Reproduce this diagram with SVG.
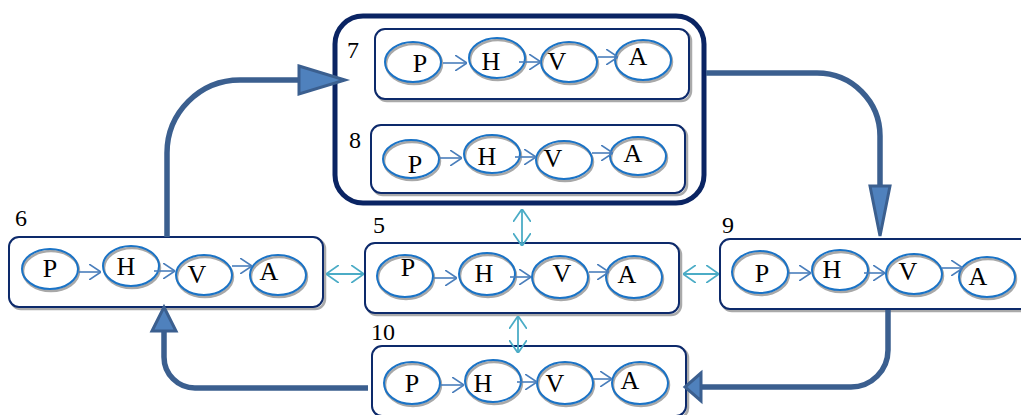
<svg xmlns="http://www.w3.org/2000/svg" width="1021" height="415" viewBox="0 0 1021 415">
<style>
.box{fill:#ffffff;stroke:#0d2a6b;stroke-width:2}
.bsh{fill:none;stroke:#aaaaaa;stroke-width:2.5}
.el{fill:none;stroke:#1a73c6;stroke-width:2}
.esh{fill:none;stroke:#a8a8a8;stroke-width:2.5}
.lt{font-family:"Liberation Serif","Times New Roman",serif;font-size:26px;fill:#000;text-anchor:middle}
.num{font-family:"Liberation Serif","Times New Roman",serif;font-size:24px;fill:#000}
.ia{fill:none;stroke:#4a7ebb;stroke-width:1.6;marker-end:url(#sa)}
.da{fill:none;stroke:#4bacc6;stroke-width:1.8;marker-end:url(#ca);marker-start:url(#ca)}
.big{fill:none;stroke:#3b5f8f;stroke-width:5.5}
.bh{fill:#4f81bd;stroke:#3b5f8f;stroke-width:3;stroke-linejoin:miter}
</style>
<defs>
<marker id="sa" viewBox="0 0 12 16" refX="12" refY="8" markerWidth="12" markerHeight="16" markerUnits="userSpaceOnUse" orient="auto"><path d="M0,0 L12,8 L0,16" fill="none" stroke="#4a7ebb" stroke-width="1.6"/></marker>
<marker id="ca" viewBox="0 0 13 18" refX="13" refY="9" markerWidth="13" markerHeight="18" markerUnits="userSpaceOnUse" orient="auto-start-reverse"><path d="M0,0 L13,9 L0,18" fill="none" stroke="#4bacc6" stroke-width="1.8"/></marker>
</defs>

<g id="group78">
<rect x="335" y="16" width="369" height="187" rx="28" fill="#ffffff" stroke="#0a2463" stroke-width="5"/>
</g>

<g id="node7">
<rect class="bsh" x="377" y="31" width="314" height="70" rx="10"/>
<rect class="box" x="375" y="29" width="314" height="70" rx="10"/>
<text class="num" x="347" y="58">7</text>
<ellipse class="esh" cx="414" cy="64" rx="28" ry="20"/><ellipse class="el" cx="413" cy="62" rx="28" ry="20"/>
<ellipse class="esh" cx="498" cy="60" rx="28" ry="20"/><ellipse class="el" cx="497" cy="58" rx="28" ry="20"/>
<ellipse class="esh" cx="570" cy="64" rx="28" ry="20"/><ellipse class="el" cx="569" cy="62" rx="28" ry="20"/>
<ellipse class="esh" cx="644" cy="62" rx="28" ry="20"/><ellipse class="el" cx="643" cy="60" rx="28" ry="20"/>
<text class="lt" x="420" y="72">P</text>
<text class="lt" x="491" y="70">H</text>
<text class="lt" x="557" y="70">V</text>
<text class="lt" x="638" y="65">A</text>
<path class="ia" d="M443,63 H467"/>
<path class="ia" d="M519,62 H541"/>
<path class="ia" d="M598,57 H618"/>
</g>

<g id="node8">
<rect class="bsh" x="373" y="127" width="314" height="68" rx="10"/>
<rect class="box" x="371" y="125" width="314" height="68" rx="10"/>
<text class="num" x="349" y="148">8</text>
<ellipse class="esh" cx="412" cy="161" rx="28" ry="19"/><ellipse class="el" cx="411" cy="159" rx="28" ry="19"/>
<ellipse class="esh" cx="493" cy="156" rx="28" ry="19"/><ellipse class="el" cx="492" cy="154" rx="28" ry="19"/>
<ellipse class="esh" cx="565" cy="162" rx="28" ry="19"/><ellipse class="el" cx="564" cy="160" rx="28" ry="19"/>
<ellipse class="esh" cx="639" cy="158" rx="28" ry="19"/><ellipse class="el" cx="638" cy="156" rx="28" ry="19"/>
<text class="lt" x="415" y="173">P</text>
<text class="lt" x="487" y="165">H</text>
<text class="lt" x="553" y="167">V</text>
<text class="lt" x="633" y="162">A</text>
<path class="ia" d="M439,158 H462"/>
<path class="ia" d="M515,157 H536"/>
<path class="ia" d="M592,153 H613"/>
</g>

<g id="node6">
<rect class="bsh" x="11" y="239" width="314" height="70" rx="10"/>
<rect class="box" x="9" y="237" width="314" height="70" rx="10"/>
<text class="num" x="15" y="226">6</text>
<ellipse class="esh" cx="51" cy="271" rx="28" ry="20"/><ellipse class="el" cx="50" cy="269" rx="28" ry="20"/>
<ellipse class="esh" cx="132" cy="268" rx="28" ry="20"/><ellipse class="el" cx="131" cy="266" rx="28" ry="20"/>
<ellipse class="esh" cx="205" cy="277" rx="28" ry="20"/><ellipse class="el" cx="204" cy="275" rx="28" ry="20"/>
<ellipse class="esh" cx="279" cy="277" rx="28" ry="20"/><ellipse class="el" cx="278" cy="275" rx="28" ry="20"/>
<text class="lt" x="50" y="277">P</text>
<text class="lt" x="126" y="275">H</text>
<text class="lt" x="197" y="283">V</text>
<text class="lt" x="269" y="280">A</text>
<path class="ia" d="M79,272 H101"/>
<path class="ia" d="M154,271 H175"/>
<path class="ia" d="M232,266 H252"/>
</g>

<g id="node5">
<rect class="bsh" x="367" y="245" width="314" height="70" rx="10"/>
<rect class="box" x="365" y="243" width="314" height="70" rx="10"/>
<text class="num" x="373" y="233">5</text>
<ellipse class="esh" cx="406" cy="278" rx="28" ry="21"/><ellipse class="el" cx="405" cy="276" rx="28" ry="21"/>
<ellipse class="esh" cx="488" cy="276" rx="28" ry="21"/><ellipse class="el" cx="487" cy="274" rx="28" ry="21"/>
<ellipse class="esh" cx="561" cy="279" rx="28" ry="21"/><ellipse class="el" cx="560" cy="277" rx="28" ry="21"/>
<ellipse class="esh" cx="635" cy="279" rx="28" ry="21"/><ellipse class="el" cx="634" cy="277" rx="28" ry="21"/>
<text class="lt" x="408" y="276">P</text>
<text class="lt" x="484" y="282">H</text>
<text class="lt" x="562" y="282">V</text>
<text class="lt" x="627" y="283">A</text>
<path class="ia" d="M434,278 H457"/>
<path class="ia" d="M510,277 H531"/>
<path class="ia" d="M589,272 H609"/>
</g>

<g id="node9">
<rect class="bsh" x="722" y="241" width="314" height="70" rx="10"/>
<rect class="box" x="720" y="239" width="314" height="70" rx="10"/>
<text class="num" x="722" y="233">9</text>
<ellipse class="esh" cx="761" cy="274" rx="28" ry="21"/><ellipse class="el" cx="760" cy="272" rx="28" ry="21"/>
<ellipse class="esh" cx="841" cy="272" rx="28" ry="20"/><ellipse class="el" cx="840" cy="270" rx="28" ry="20"/>
<ellipse class="esh" cx="915" cy="276" rx="28" ry="20"/><ellipse class="el" cx="914" cy="274" rx="28" ry="20"/>
<ellipse class="esh" cx="988" cy="279" rx="28" ry="20"/><ellipse class="el" cx="987" cy="277" rx="28" ry="20"/>
<text class="lt" x="762" y="282">P</text>
<text class="lt" x="832" y="278">H</text>
<text class="lt" x="908" y="280">V</text>
<text class="lt" x="978" y="285">A</text>
<path class="ia" d="M789,273 H811"/>
<path class="ia" d="M864,273 H885"/>
<path class="ia" d="M942,268 H963"/>
</g>

<g id="node10">
<rect class="bsh" x="374" y="348" width="314" height="70" rx="10"/>
<rect class="box" x="372" y="346" width="314" height="70" rx="10"/>
<text class="num" x="371" y="340">10</text>
<ellipse class="esh" cx="413" cy="385" rx="28" ry="21"/><ellipse class="el" cx="412" cy="383" rx="28" ry="21"/>
<ellipse class="esh" cx="494" cy="383" rx="28" ry="21"/><ellipse class="el" cx="493" cy="381" rx="28" ry="21"/>
<ellipse class="esh" cx="566" cy="385" rx="28" ry="21"/><ellipse class="el" cx="565" cy="383" rx="28" ry="21"/>
<ellipse class="esh" cx="641" cy="385" rx="28" ry="21"/><ellipse class="el" cx="640" cy="383" rx="28" ry="21"/>
<text class="lt" x="412" y="392">P</text>
<text class="lt" x="483" y="392">H</text>
<text class="lt" x="555" y="392">V</text>
<text class="lt" x="630" y="389">A</text>
<path class="ia" d="M441,385 H464"/>
<path class="ia" d="M517,382 H537"/>
<path class="ia" d="M593,379 H612"/>
</g>

<g id="connectors">
<path class="big" d="M167,237 V153 A73,73 0 0 1 240,80 H300"/>
<polygon class="bh" points="299,66 345,80 299,94"/>
<path class="big" d="M706,73 H817 A63,63 0 0 1 880,136 V188"/>
<polygon class="bh" points="870,186 880,236 890,186"/>
<path class="big" d="M888,310 V350 A37,37 0 0 1 851,387 H702"/>
<polygon class="bh" points="701,373 685,387 701,401"/>
<path class="big" d="M368,388 H195 A31,31 0 0 1 164,357 V332"/>
<polygon class="bh" points="152,331 164,307 176,331"/>
<path class="da" d="M326,274 H364"/>
<path class="da" d="M683,274 H719"/>
<path class="da" d="M522,209 V246"/>
<path class="da" d="M518,316 V353"/>
</g>
</svg>
